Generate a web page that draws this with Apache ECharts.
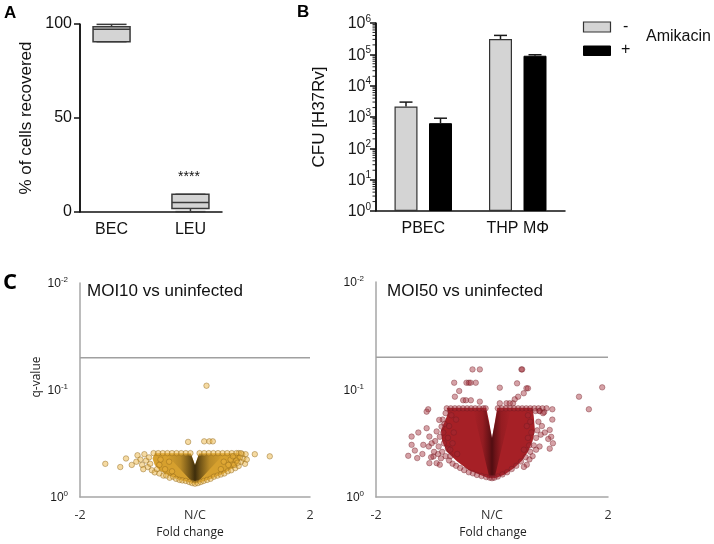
<!DOCTYPE html>
<html>
<head>
<meta charset="utf-8">
<script src="https://cdn.jsdelivr.net/npm/echarts@6/dist/echarts.min.js"></script>
<style>
html,body{margin:0;padding:0;background:#fff}
#wrap{position:relative;width:714px;height:544px;overflow:hidden}
#ab{position:absolute;left:0;top:0;width:714px;height:260px}
#cc{position:absolute;left:0;top:260px;width:714px;height:284px}
</style>
</head>
<body>
<div id="wrap"><div id="ab"></div><div id="cc"></div></div>
<script>
// ---------- Panel A : % of cells recovered (box & whiskers) ----------
const catsA = ['BEC', 'LEU'];
const boxMin = [90.6, 0.2];
const boxQ1  = [90.6, 1.8];
const boxMed = [97.2, 5.0];
const boxQ3  = [98.6, 9.4];
const boxMax = [99.8, 9.4];
const ticksA = [0, 50, 100];

// ---------- Panel B : CFU ----------
const catsB = ['PBEC', 'THP MΦ'];
const cfuMinus    = [2160, 308000];
const cfuMinusErr = [2990, 402000];
const cfuPlus     = [636, 90200];
const cfuPlusErr  = [915, 97000];
const legendB = ['-', '+'];
const decadesB = [1, 10, 100, 1000, 10000, 100000, 1000000];
const minorStepsB = [2, 3, 4, 5, 6, 7, 8, 9];

// ---------- Panel C : volcano plots (x = fold change, y = -log10 q) ----------
const qThreshold = 0.05;
const foldTicks = [-2, 0, 2];
const qTicks = [0, 1, 2];

const moi10Envelope = [[-0.70,0.41],[-0.07,0.41],[0,0.30],[0.07,0.41],[0.78,0.41],[0.80,0.36],[0.72,0.29],[0.50,0.22],[0.26,0.165],[0.05,0.13],[0,0.125],[-0.05,0.13],[-0.26,0.16],[-0.48,0.205],[-0.62,0.25],[-0.70,0.30],[-0.74,0.36]];
const moi10Core = [[-0.50,0.40],[-0.07,0.40],[0,0.30],[0.07,0.40],[0.50,0.40],[0.04,0.135],[0,0.13],[-0.04,0.135]];
const moi10Points = [
 [0.20,1.04],[-0.12,0.515],[0.16,0.52],[0.25,0.52],[0.31,0.52],
 [-1.56,0.31],[-1.30,0.28],[-1.20,0.36],[-1.10,0.30],[1.04,0.40],[1.30,0.38],[0.87,0.31],
 [-1.00,0.39],[-0.95,0.35],[-0.92,0.30],[-0.88,0.40],[-0.85,0.34],[-0.82,0.28],[-0.80,0.37],[-0.78,0.31],[-0.75,0.25],[-0.70,0.23],[-0.66,0.26],[-1.02,0.33],[-0.90,0.26],[-0.62,0.22],[-0.55,0.20],
 [-0.50,0.20],[-0.44,0.18],[-0.38,0.19],[-0.33,0.17],[-0.27,0.16],[-0.22,0.155],[-0.16,0.15],[-0.10,0.14],[-0.05,0.13],[0,0.125],
 [0.05,0.13],[0.10,0.14],[0.15,0.15],[0.21,0.16],[0.27,0.17],[0.33,0.19],[0.39,0.20],[0.45,0.21],[0.51,0.22],[0.57,0.24],[0.63,0.25],[0.70,0.27],[0.76,0.29],
 [0.80,0.33],[0.84,0.36],[0.82,0.40],[0.76,0.41],[0.88,0.40],[0.90,0.35],[0.78,0.37],[0.72,0.34],[0.68,0.30],[0.74,0.32],
 [-0.72,0.41],[-0.64,0.41],[-0.56,0.41],[-0.48,0.41],[-0.40,0.41],[-0.32,0.41],[-0.24,0.41],[-0.16,0.41],[-0.08,0.41],
 [0.08,0.41],[0.16,0.41],[0.24,0.41],[0.32,0.41],[0.40,0.41],[0.48,0.41],[0.56,0.41],[0.64,0.41],[0.72,0.41],[0.80,0.41],
 [-0.60,0.35],[-0.45,0.33],[-0.62,0.30],[-0.52,0.26],[-0.40,0.24],[0.45,0.26],[0.58,0.30],[0.62,0.35],[0.50,0.33],[0.66,0.38]
];

const moi50Envelope = [[-0.78,0.83],[-0.10,0.83],[-0.05,0.70],[0,0.55],[0.05,0.70],[0.09,0.83],[0.70,0.83],[0.72,0.75],[0.74,0.62],[0.70,0.52],[0.62,0.42],[0.52,0.34],[0.38,0.27],[0.22,0.21],[0.08,0.18],[0,0.175],[-0.08,0.18],[-0.22,0.21],[-0.40,0.25],[-0.60,0.33],[-0.78,0.42],[-0.86,0.52],[-0.88,0.62],[-0.80,0.72],[-0.76,0.78]];
const moi50Core = [[-0.32,0.80],[-0.10,0.80],[0,0.55],[0.09,0.80],[0.32,0.80],[0.05,0.19],[0,0.18],[-0.05,0.19]];
const moi50Points = [
 [-0.78,0.825],[-0.71,0.825],[-0.64,0.825],[-0.57,0.825],[-0.50,0.825],[-0.43,0.825],[-0.36,0.825],[-0.29,0.825],[-0.22,0.825],[-0.15,0.825],[-0.11,0.825],
 [0.10,0.825],[0.17,0.825],[0.24,0.825],[0.31,0.825],[0.38,0.825],[0.45,0.825],[0.52,0.825],[0.59,0.825],[0.66,0.825],[0.73,0.825],[0.80,0.825],[0.87,0.825],[0.94,0.825],
 [0.75,0.80],[0.82,0.80],[0.90,0.79],
 [-0.80,0.78],[-0.85,0.72],[-0.91,0.717],[-0.87,0.655],[-0.955,0.61],[-0.98,0.52],[-0.90,0.56],[-0.92,0.47],[-0.86,0.42],[-0.80,0.38],[-0.74,0.34],[-0.68,0.31],[-0.62,0.29],[-0.55,0.27],[-0.48,0.25],[-0.40,0.23],[-0.33,0.22],[-0.26,0.205],[-0.18,0.195],[-0.10,0.185],[-0.04,0.18],[0,0.175],
 [-0.82,0.68],[-0.84,0.60],[-0.83,0.50],[-0.76,0.45],[-0.72,0.38],
 [-1.444,0.383],[-1.386,0.562],[-1.27,0.60],[-1.33,0.432],[-1.386,0.485],[-1.29,0.362],[-1.127,0.64],[-1.08,0.562],[-1.04,0.50],[-1.09,0.47],[-1.185,0.485],[-1.01,0.377],[-1.08,0.315],[-0.955,0.315],[-1.10,0.816],[-1.127,0.794],
 [-1.20,0.40],[-0.88,0.36],[-0.93,0.40],[-1.00,0.42],[-1.05,0.37],[-0.90,0.30],
 [-0.652,1.063],[-0.44,1.063],[-0.40,1.063],[-0.37,1.063],[-0.28,1.063],[-0.336,1.187],[-0.21,1.187],[-0.566,0.986],[-0.64,0.933],[-0.497,0.90],[-0.45,0.90],[-0.365,0.90],[-0.21,0.887],
 [0.508,1.187],[0.52,1.187],[0.134,1.017],[0.432,1.057],[0.594,1.011],[0.62,1.011],[0.547,0.965],[0.392,0.909],[0.45,0.933],[0.363,0.872],[0.134,0.872],[0.25,0.872],[0.306,0.872],
 [1.90,1.02],[1.50,0.933],[1.67,0.816],[1.04,0.816],[1.04,0.72],[0.995,0.624],[1.02,0.56],[1.05,0.50],[0.91,0.60],[0.97,0.54],[0.82,0.47],[0.76,0.44],[0.995,0.45],[0.70,0.38],[0.645,0.35],
 [0.82,0.80],[0.88,0.78],[0.80,0.70],[0.86,0.66],[0.78,0.62],[0.84,0.58],[0.76,0.55],[0.72,0.48],[0.66,0.42],[0.58,0.37],[0.50,0.33],[0.42,0.29],[0.34,0.26],[0.26,0.23],[0.18,0.21],[0.10,0.19],[0.04,0.18],[0.60,0.30],[0.55,0.28],
 [-0.70,0.76],[-0.62,0.72],[-0.74,0.66],[-0.66,0.60],[-0.76,0.55],[-0.68,0.50],[-0.72,0.44],[-0.60,0.40],
 [0.62,0.76],[0.66,0.70],[0.60,0.66],[0.68,0.60],[0.62,0.55],[0.64,0.48],[0.55,0.44]
];

const ARIAL = 'Arial, Liberation Sans, sans-serif';
const CAL = 'Open Sans, sans-serif';
const AXIS_COLOR = '#111';
const threshY = -Math.log10(qThreshold);

function boxRender(params, api) {
  const x = api.value(0);
  const pMin = api.coord([x, api.value(1)]);
  const pQ1 = api.coord([x, api.value(2)]);
  const pMed = api.coord([x, api.value(3)]);
  const pQ3 = api.coord([x, api.value(4)]);
  const pMax = api.coord([x, api.value(5)]);
  const cx = pMed[0], hw = 18.5, cw = 15;
  const st = {stroke: '#3a3a3a', lineWidth: 1.5};
  return {type: 'group', children: [
    {type: 'line', shape: {x1: cx, y1: pQ3[1], x2: cx, y2: pMax[1]}, style: st},
    {type: 'line', shape: {x1: cx - cw, y1: pMax[1], x2: cx + cw, y2: pMax[1]}, style: st},
    {type: 'line', shape: {x1: cx, y1: pQ1[1], x2: cx, y2: pMin[1]}, style: st},
    {type: 'line', shape: {x1: cx - cw, y1: pMin[1], x2: cx + cw, y2: pMin[1]}, style: st},
    {type: 'rect', shape: {x: cx - hw, y: pQ3[1], width: 2 * hw, height: pQ1[1] - pQ3[1]}, style: {fill: '#d4d4d4', stroke: '#3a3a3a', lineWidth: 1.5}},
    {type: 'line', shape: {x1: cx - hw, y1: pMed[1], x2: cx + hw, y2: pMed[1]}, style: st}
  ]};
}
function errRender(params, api) {
  const c = api.coord([api.value(0), api.value(1)]);
  const t = api.coord([api.value(0), api.value(2)]);
  const cx = c[0] + api.value(3) * 17.25;
  const st = {stroke: '#1a1a1a', lineWidth: 1.5};
  return {type: 'group', children: [
    {type: 'line', shape: {x1: cx, y1: c[1], x2: cx, y2: t[1]}, style: st},
    {type: 'line', shape: {x1: cx - 6.5, y1: t[1], x2: cx + 6.5, y2: t[1]}, style: st}
  ]};
}
function tickRender(params, api) {
  const p = api.coord([api.value(0), api.value(1)]);
  const len = api.value(2);
  return {type: 'line', shape: {x1: p[0] - len, y1: p[1], x2: p[0], y2: p[1]}, style: {stroke: '#222', lineWidth: 1}};
}
function polyRender(pts, fill) {
  return function (params, api) {
    if (params.dataIndex !== 0) return null;
    return {type: 'polygon', shape: {points: pts.map(p => api.coord(p))}, style: {fill: fill}};
  };
}
function coreGrad(rgb, peak) {
  return {type: 'linear', x: 0, y: 0, x2: 1, y2: 0, colorStops: [
    {offset: 0, color: 'rgba(' + rgb + ',0)'},
    {offset: 0.25, color: 'rgba(' + rgb + ',' + (peak * 0.2) + ')'},
    {offset: 0.42, color: 'rgba(' + rgb + ',' + (peak * 0.7) + ')'},
    {offset: 0.5, color: 'rgba(' + rgb + ',' + peak + ')'},
    {offset: 0.58, color: 'rgba(' + rgb + ',' + (peak * 0.7) + ')'},
    {offset: 0.75, color: 'rgba(' + rgb + ',' + (peak * 0.2) + ')'},
    {offset: 1, color: 'rgba(' + rgb + ',0)'}
  ]};
}
const supRich = (big, small) => ({
  b: {fontSize: big, fontFamily: ARIAL, color: '#1a1a1a', verticalAlign: 'bottom', lineHeight: big + 2},
  s: {fontSize: small, fontFamily: ARIAL, color: '#1a1a1a', verticalAlign: 'top', lineHeight: big + 2}
});

// ================= Panels A and B (own chart instance) =================
const chartAB = echarts.init(document.getElementById('ab'));
const minorB = [];
decadesB.slice(0, -1).forEach(d => minorStepsB.forEach(k => minorB.push([0, k * d, 3.5])));

chartAB.setOption({
  animation: false,
  grid: [
    {left: 80, top: 24, width: 142, height: 188},
    {left: 376, top: 23, width: 189, height: 188}
  ],
  xAxis: [
    {type: 'value', gridIndex: 0, min: 0.6, max: 2.4, interval: 0.2,
     axisLine: {show: true, lineStyle: {color: AXIS_COLOR, width: 1.5}}, axisTick: {show: false}, splitLine: {show: false},
     axisLabel: {margin: 10, fontSize: 16, fontFamily: ARIAL, color: '#111',
       formatter: v => (Math.abs(v - 1) < 1e-6 ? catsA[0] : Math.abs(v - 2) < 1e-6 ? catsA[1] : '')}},
    {type: 'category', gridIndex: 1, data: catsB,
     axisLine: {show: true, lineStyle: {color: AXIS_COLOR, width: 1.5}}, axisTick: {show: false},
     axisLabel: {margin: 10, fontSize: 16, fontFamily: ARIAL, color: '#111'}},
    {type: 'value', gridIndex: 1, min: 0, max: 1, show: false}
  ],
  yAxis: [
    {type: 'value', gridIndex: 0, min: ticksA[0], max: ticksA[2], interval: 50,
     name: '% of cells recovered', nameLocation: 'middle', nameRotate: 90, nameGap: 45,
     nameTextStyle: {fontSize: 17, fontFamily: ARIAL, color: '#111'},
     axisLine: {show: true, lineStyle: {color: AXIS_COLOR, width: 1.5}},
     axisTick: {show: true, length: 6, lineStyle: {color: AXIS_COLOR, width: 1.5}}, splitLine: {show: false},
     axisLabel: {margin: 8, fontSize: 16, fontFamily: ARIAL, color: '#111'}},
    {type: 'log', gridIndex: 1, min: 1, max: 1000000, logBase: 10, splitNumber: 6,
     name: 'CFU [H37Rv]', nameLocation: 'middle', nameRotate: 90, nameGap: 48,
     nameTextStyle: {fontSize: 17, fontFamily: ARIAL, color: '#111'},
     axisLine: {show: true, lineStyle: {color: AXIS_COLOR, width: 1.5}},
     axisTick: {show: true, length: 6, lineStyle: {color: AXIS_COLOR, width: 1.5}}, splitLine: {show: false},
     axisLabel: {margin: 5, formatter: v => '{b|10}{s|' + Math.round(Math.log10(v)) + '}', rich: supRich(16, 10)}}
  ],
  series: [
    {type: 'line', xAxisIndex: 0, yAxisIndex: 0, data: [[0.6, ticksA[0]], [0.6, ticksA[2]]], symbol: 'none', clip: false, z: 6,
     lineStyle: {color: AXIS_COLOR, width: 1.5}},
    {type: 'custom', xAxisIndex: 0, yAxisIndex: 0, renderItem: boxRender,
     data: catsA.map((c, i) => [i + 1, boxMin[i], boxQ1[i], boxMed[i], boxQ3[i], boxMax[i]])},
    {type: 'bar', name: legendB[0], xAxisIndex: 1, yAxisIndex: 1, data: cfuMinus, barWidth: 23, barGap: '50%',
     itemStyle: {color: '#d4d4d4', borderColor: '#333', borderWidth: 1.2}},
    {type: 'bar', name: legendB[1], xAxisIndex: 1, yAxisIndex: 1, data: cfuPlus, barWidth: 23, barGap: '50%',
     itemStyle: {color: '#000', borderColor: '#000', borderWidth: 1}},
    {type: 'custom', xAxisIndex: 1, yAxisIndex: 1, renderItem: errRender, z: 3,
     data: catsB.map((c, i) => [i, cfuMinus[i], cfuMinusErr[i], -1]).concat(catsB.map((c, i) => [i, cfuPlus[i], cfuPlusErr[i], 1]))},
    {type: 'line', xAxisIndex: 2, yAxisIndex: 1, data: [[0, decadesB[0]], [0, decadesB[decadesB.length - 1]]], symbol: 'none', clip: false, z: 6,
     lineStyle: {color: AXIS_COLOR, width: 1.5}},
    {type: 'custom', xAxisIndex: 2, yAxisIndex: 1, renderItem: tickRender, clip: false, z: 5, data: minorB}
  ],
  graphic: [
    {type: 'text', x: 4, y: 5, style: {text: 'A', font: 'bold 17px Arial', fill: '#000'}},
    {type: 'text', x: 297, y: 4, style: {text: 'B', font: 'bold 17px Arial', fill: '#000'}},
    {type: 'text', x: 189, y: 170, style: {text: '****', font: '14px Arial', fill: '#111', align: 'center'}},
    {type: 'rect', shape: {x: 583.5, y: 22, width: 27, height: 10}, style: {fill: '#d4d4d4', stroke: '#333', lineWidth: 1.2}},
    {type: 'rect', shape: {x: 583.5, y: 46, width: 27, height: 9.5}, style: {fill: '#000', stroke: '#000', lineWidth: 1}},
    {type: 'text', x: 623, y: 19, style: {text: legendB[0], font: '16px Arial', fill: '#111'}},
    {type: 'text', x: 621, y: 42, style: {text: legendB[1], font: '16px Arial', fill: '#111'}},
    {type: 'text', x: 646, y: 29, style: {text: 'Amikacin', font: '16px Arial', fill: '#111'}}
  ]
});

// ================= Panel C (own chart instance) =================
const chartC = echarts.init(document.getElementById('cc'));
const xC = (gi) => ({
  type: 'value', gridIndex: gi, min: foldTicks[0], max: foldTicks[2], interval: 2,
  axisLine: {onZero: false, lineStyle: {color: '#a6a6a6', width: 1.5}}, axisTick: {show: false}, splitLine: {show: false},
  axisLabel: {margin: 12, fontSize: 12.5, fontFamily: CAL, color: '#333',
    formatter: v => (v === 0 ? 'N/C' : String(v))}
});
const yC = (gi) => ({
  type: 'value', gridIndex: gi, min: qTicks[0], max: qTicks[2], interval: 1,
  axisLine: {show: true, onZero: false, lineStyle: {color: '#a6a6a6', width: 1.5}}, axisTick: {show: false}, splitLine: {show: false},
  axisLabel: {margin: 12, formatter: v => '{b|10}{s|' + (v === 0 ? '0' : '-' + v) + '}', rich: supRich(12, 8)}
});
chartC.setOption({
  animation: false,
  grid: [
    {left: 80, top: 23, width: 230, height: 214},
    {left: 376, top: 22, width: 232, height: 215}
  ],
  xAxis: [xC(0), xC(1)],
  yAxis: [yC(0), yC(1)],
  series: [
    {type: 'line', xAxisIndex: 0, yAxisIndex: 0, data: [[foldTicks[0], threshY], [foldTicks[2], threshY]], symbol: 'none',
     lineStyle: {color: '#a0a0a0', width: 1.5}},
    {type: 'custom', xAxisIndex: 0, yAxisIndex: 0, data: moi10Envelope, renderItem: polyRender(moi10Envelope, 'rgb(214,160,46)')},
    {type: 'scatter', xAxisIndex: 0, yAxisIndex: 0, data: moi10Points, symbolSize: 5.5,
     itemStyle: {color: 'rgba(235,178,60,0.6)', borderColor: 'rgba(140,100,25,0.7)', borderWidth: 0.8}},
    {type: 'custom', xAxisIndex: 0, yAxisIndex: 0, data: moi10Core, renderItem: polyRender(moi10Core, coreGrad('35,25,5', 0.85))},
    {type: 'line', xAxisIndex: 1, yAxisIndex: 1, data: [[foldTicks[0], threshY], [foldTicks[2], threshY]], symbol: 'none',
     lineStyle: {color: '#a0a0a0', width: 1.5}},
    {type: 'custom', xAxisIndex: 1, yAxisIndex: 1, data: moi50Envelope, renderItem: polyRender(moi50Envelope, 'rgb(166,32,38)')},
    {type: 'scatter', xAxisIndex: 1, yAxisIndex: 1, data: moi50Points, symbolSize: 5.5,
     itemStyle: {color: 'rgba(160,40,52,0.55)', borderColor: 'rgba(110,25,35,0.6)', borderWidth: 0.8}},
    {type: 'custom', xAxisIndex: 1, yAxisIndex: 1, data: moi50Core, renderItem: polyRender(moi50Core, coreGrad('45,5,8', 0.7))}
  ],
  graphic: [
    {type: 'text', x: 3, y: 12, style: {text: 'C', font: 'bold 22px Open Sans', fill: '#000'}},
    {type: 'text', x: 87, y: 23, style: {text: 'MOI10 vs uninfected', font: '17px Arial', fill: '#111'}},
    {type: 'text', x: 387, y: 23, style: {text: 'MOI50 vs uninfected', font: '17px Arial', fill: '#111'}},
    {type: 'text', x: 31, y: 117, rotation: Math.PI / 2, style: {text: 'q-value', font: '12px Open Sans', fill: '#222', align: 'center'}},
    {type: 'text', x: 190, y: 267, style: {text: 'Fold change', font: '12px Open Sans', fill: '#222', align: 'center'}},
    {type: 'text', x: 493, y: 267, style: {text: 'Fold change', font: '12px Open Sans', fill: '#222', align: 'center'}}
  ]
});
</script>
</body>
</html>
